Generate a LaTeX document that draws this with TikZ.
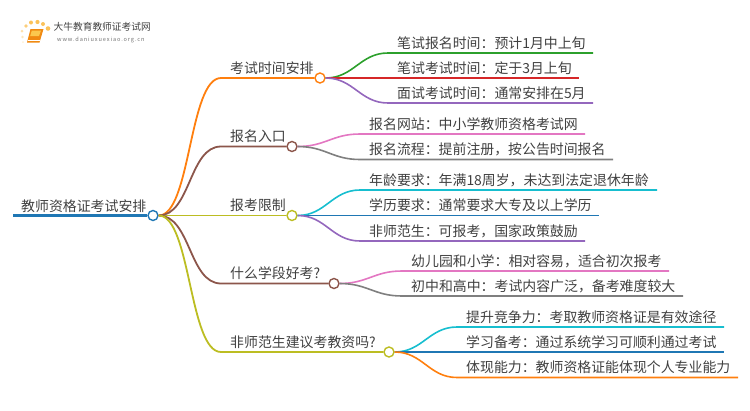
\documentclass[tikz,border=0pt]{standalone}
\usepackage{fontspec}
\setmainfont{Noto Sans CJK SC}
\definecolor{torange}{HTML}{FF7F0E}
\definecolor{tbrown}{HTML}{8C564B}
\definecolor{tolive}{HTML}{BCBD22}
\definecolor{tgreen}{HTML}{2CA02C}
\definecolor{tred}{HTML}{D62728}
\definecolor{tpurple}{HTML}{9467BD}
\definecolor{tpink}{HTML}{E377C2}
\definecolor{tgray}{HTML}{7F7F7F}
\definecolor{tcyan}{HTML}{17BECF}
\definecolor{tblue}{HTML}{1F77B4}
\definecolor{txt}{HTML}{404040}
\definecolor{sunny}{HTML}{FBC25A}
\definecolor{bookc}{HTML}{F08A12}
\definecolor{bookl}{HTML}{FBC84E}
\tikzset{
  hub/.style={circle,draw=#1,fill=white,line width=1.4pt,minimum size=10pt,inner sep=0pt},
  lab/.style={anchor=base west,inner sep=0pt,yshift=0.8pt,text=txt,font=\fontsize{13.9}{15}\selectfont},
  wire/.style={draw=#1,line width=1.8pt},
  twig/.style={draw=#1,line width=1.6pt}
}
\begin{document}
\begin{tikzpicture}[x=1pt,y=-1pt]
\useasboundingbox (0,0) rectangle (750,410);
% logo
\foreach \px/\py/\r/\o in {23/42/1/.25,22.5/37/1.3/.4,22/31/1.5/.5,26/26/1.9/.8,31/22.5/2/1,37.5/22/2.1/1,43/24/2/1,48/28.5/2.3/1}
  \fill[sunny,opacity=\o] (\px,\py) circle[radius=\r pt];
\fill[bookc] (30.5,29) -- (43.5,29) -- (39.5,42.5) -- (27,42.5) -- cycle;
\fill[bookl] (31.8,30.5) -- (41,30.5) -- (39,36) -- (30.2,36) -- cycle;
\draw[white,line width=.6pt] (28,40.3) -- (39.8,40.3);
\node[anchor=base west,inner sep=0pt,text=black!75,font=\fontsize{9.7}{11}\selectfont] (logoa) at (53.5,30) {大牛教育教师证考试网};
\node[anchor=base west,inner sep=0pt,text=black!55,font=\fontsize{5.6}{7}\selectfont] (logob) at (57,41.5) {\addfontfeature{LetterSpace=16}www.daniuxuexiao.org.cn};
% root
\coordinate (r0) at (13,215.5);
\node[hub=tblue] (root) at (153,215.5) {};
\draw[tblue,line width=2.2pt] (r0) -- (root.west);
\node[lab] (rootlab) at (21,212) {教师资格证考试安排};
% branch hubs
\node[hub=torange] (h1) at (320,78) {};
\node[hub=tbrown] (h2) at (292,146.5) {};
\node[hub=tolive] (h3) at (292,215.5) {};
\node[hub=tbrown] (h4) at (334,283.5) {};
\node[hub=tolive] (h5) at (389,352) {};
\coordinate (s1) at (221,78);
\coordinate (s2) at (221,146.5);
\coordinate (s3) at (221,215.5);
\coordinate (s4) at (221,283.5);
\coordinate (s5) at (221,352);
\draw[wire=torange] (root.east) .. controls +(32,0) and +(-32,0) .. (s1) -- (h1.west);
\draw[wire=tbrown] (root.east) .. controls +(32,0) and +(-32,0) .. (s2) -- (h2.west);
\draw[wire=tolive] (root.east) -- (s3) -- (h3.west);
\draw[wire=tbrown] (root.east) .. controls +(32,0) and +(-32,0) .. (s4) -- (h4.west);
\draw[wire=tolive] (root.east) .. controls +(32,0) and +(-32,0) .. (s5) -- (h5.west);
\node[lab] (b1) at (230,74) {考试时间安排};
\node[lab] (b2) at (230,142.5) {报名入口};
\node[lab] (b3) at (230,211.5) {报考限制};
\node[lab] (b4) at (230,279.5) {什么学段好考?};
\node[lab] (b5) at (230,348) {非师范生建议考教资吗?};
% leaves of h1
\coordinate (a1) at (388,53); \coordinate (a1e) at (593,53);
\coordinate (a2e) at (579,78);
\coordinate (a3) at (388,103); \coordinate (a3e) at (593,103);
\draw[twig=tgreen] (h1.east) .. controls +(28,0) and +(-28,0) .. (a1) -- (a1e);
\draw[twig=tred] (h1.east) -- (a2e);
\draw[twig=tpurple] (h1.east) .. controls +(28,0) and +(-28,0) .. (a3) -- (a3e);
\node[lab] (t1) at (397,49) {笔试报名时间：预计1月中上旬};
\node[lab] (t2) at (397,74) {笔试考试时间：定于3月上旬};
\node[lab] (t3) at (397,99) {面试考试时间：通常安排在5月};
% leaves of h2
\coordinate (c1) at (360,134); \coordinate (c1e) at (585,134);
\coordinate (c2) at (360,159.5); \coordinate (c2e) at (613,159.5);
\draw[twig=tpink] (h2.east) .. controls +(28,0) and +(-28,0) .. (c1) -- (c1e);
\draw[twig=tgray] (h2.east) .. controls +(28,0) and +(-28,0) .. (c2) -- (c2e);
\node[lab] (t4) at (369,130) {报名网站：中小学教师资格考试网};
\node[lab] (t5) at (369,155) {报名流程：提前注册，按公告时间报名};
% leaves of h3
\coordinate (d1) at (360,190); \coordinate (d1e) at (657,190);
\coordinate (d2e) at (599,215.5);
\coordinate (d3) at (360,241); \coordinate (d3e) at (585,241);
\draw[twig=tcyan] (h3.east) .. controls +(28,0) and +(-28,0) .. (d1) -- (d1e);
\draw[twig=tblue] (h3.east) -- (d2e);
\draw[twig=tpurple] (h3.east) .. controls +(28,0) and +(-28,0) .. (d3) -- (d3e);
\node[lab] (t6) at (369,186) {年龄要求：年满18周岁，未达到法定退休年龄};
\node[lab] (t7) at (369,211.5) {学历要求：通常要求大专及以上学历};
\node[lab] (t8) at (369,237) {非师范生：可报考，国家政策鼓励};
% leaves of h4
\coordinate (e1) at (402,271); \coordinate (e1e) at (669,271);
\coordinate (e2) at (402,296); \coordinate (e2e) at (683,296);
\draw[twig=tpink] (h4.east) .. controls +(28,0) and +(-28,0) .. (e1) -- (e1e);
\draw[twig=tgray] (h4.east) .. controls +(28,0) and +(-28,0) .. (e2) -- (e2e);
\node[lab] (t9) at (411,267) {幼儿园和小学：相对容易，适合初次报考};
\node[lab] (t10) at (411,292) {初中和高中：考试内容广泛，备考难度较大};
% leaves of h5
\coordinate (f1) at (457,327); \coordinate (f1e) at (724,327);
\coordinate (f2e) at (724,352);
\coordinate (f3) at (457,377.5); \coordinate (f3e) at (738,377.5);
\draw[twig=tcyan] (h5.east) .. controls +(28,0) and +(-28,0) .. (f1) -- (f1e);
\draw[twig=tblue] (h5.east) -- (f2e);
\draw[twig=torange] (h5.east) .. controls +(28,0) and +(-28,0) .. (f3) -- (f3e);
\node[lab] (t11) at (466,323) {提升竞争力：考取教师资格证是有效途径};
\node[lab] (t12) at (466,348) {学习备考：通过系统学习可顺利通过考试};
\node[lab] (t13) at (466,373.5) {体现能力：教师资格证能体现个人专业能力};
\end{tikzpicture}
\end{document}
